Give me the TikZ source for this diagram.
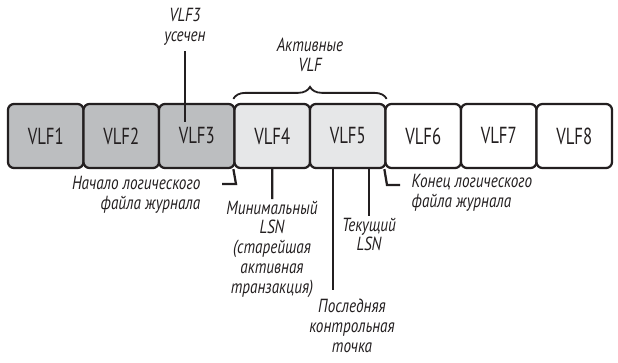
\documentclass[tikz,border=0pt]{standalone}
\usepackage{fontspec}
\setmainfont{PT Sans}[FakeStretch=0.8]
\newfontfamily\boxfont{PT Sans}[FakeStretch=0.72]
\usetikzlibrary{decorations.pathreplacing}

\definecolor{oldgray}{HTML}{BCBEC0}
\definecolor{actgray}{HTML}{E6E7E8}
\definecolor{inkblk}{HTML}{231F20}

\tikzset{
  vlfbox/.style={draw=inkblk, line width=1.6pt, rounded corners=0.15cm,
    minimum width=1.8875cm, minimum height=1.6cm, text=inkblk,
    font=\boxfont\fontsize{16.5}{16.5}\selectfont},
  note/.style={font=\itshape\fontsize{13.5}{14.2}\selectfont, align=center,
    text=inkblk, inner sep=1pt},
  lead/.style={line width=1.6pt, draw=inkblk},
}

\begin{document}
\begin{tikzpicture}[x=0.025cm, y=-0.025cm]
  \useasboundingbox (0,0) rectangle (618,362);

  % the eight VLFs
  \foreach \i/\c in {1/oldgray,2/oldgray,3/oldgray,4/actgray,
                     5/actgray,6/white,7/white,8/white}{
    \node[vlfbox, fill=\c] (vlf\i) at ({45.75+75.5*(\i-1)},136) {VLF\i};
  }

  % labels
  \node[note] (trunc) at (185,27) {VLF3\\усечен};
  \node[note] (active) at (310,55) {Активные\\VLF};
  \node[note, align=right, anchor=east] (start) at (202,195) {Начало логического\\файла журнала};
  \node[note, anchor=north] (minlsn) at (272,199) {Минимальный\\LSN\\(старейшая\\активная\\транзакция)};
  \node[note, anchor=north] (curlsn) at (369,216) {Текущий\\LSN};
  \node[note, anchor=north] (ckpt) at (352,297) {Последняя\\контрольная\\точка};
  \node[note, align=left, anchor=west] (fin) at (410,193) {Конец логического\\файла журнала};

  \coordinate (trunctip) at (185,122);
  \coordinate (startbend) at (236,184);
  \coordinate (startend) at (222,184);
  \coordinate (ckpttip) at (333,290);
  \coordinate (finbend) at (387,185);
  \coordinate (finend) at (400,185);

  % leaders
  \draw[lead, shorten <=3pt] (trunc) -- (trunctip);
  \draw[lead] (vlf4.south west) -- (startbend) -- (startend);
  \draw[lead] (vlf4.south) -- (minlsn);
  \draw[lead] (vlf5.south -| ckpttip) -- (ckpttip);
  \draw[lead] (curlsn.north |- vlf5.south) -- (curlsn.north);
  \draw[lead] (vlf6.south west) -- (finbend) -- (finend);

  % brace over the active VLFs
  \draw[lead, line width=1.3pt, decorate, decoration={brace, amplitude=0.3cm}]
    ([yshift=0.1cm]vlf4.north west) -- ([yshift=0.1cm]vlf5.north east);
\end{tikzpicture}
\end{document}
